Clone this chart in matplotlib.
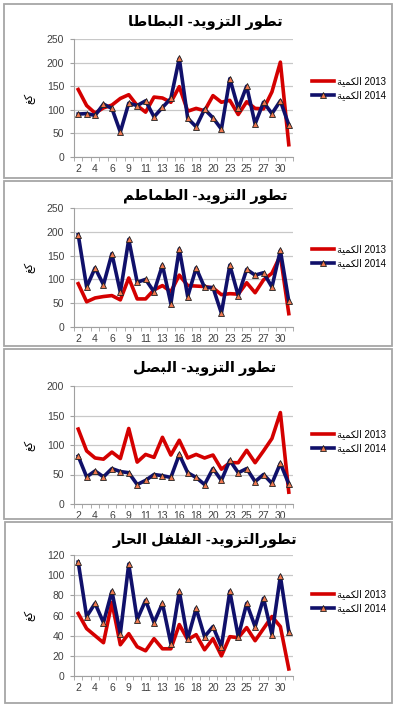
import matplotlib
matplotlib.use("Agg")
import matplotlib.pyplot as plt
import numpy as np
from matplotlib.patches import Rectangle

plt.rcParams['font.family'] = ['Liberation Sans', 'DejaVu Sans']

# presentation forms: isolated, final, initial, medial
FORMS = {
    'ا': ('\uFE8D', '\uFE8E', None, None),
    'ب': ('\uFE8F', '\uFE90', '\uFE91', '\uFE92'),
    'ة': ('\uFE93', '\uFE94', None, None),
    'ت': ('\uFE95', '\uFE96', '\uFE97', '\uFE98'),
    'ح': ('\uFEA1', '\uFEA2', '\uFEA3', '\uFEA4'),
    'د': ('\uFEA9', '\uFEAA', None, None),
    'ر': ('\uFEAD', '\uFEAE', None, None),
    'ز': ('\uFEAF', '\uFEB0', None, None),
    'ص': ('\uFEB9', '\uFEBA', '\uFEBB', '\uFEBC'),
    'ط': ('\uFEC1', '\uFEC2', '\uFEC3', '\uFEC4'),
    'غ': ('\uFECD', '\uFECE', '\uFECF', '\uFED0'),
    'ف': ('\uFED1', '\uFED2', '\uFED3', '\uFED4'),
    'ك': ('\uFED9', '\uFEDA', '\uFEDB', '\uFEDC'),
    'ل': ('\uFEDD', '\uFEDE', '\uFEDF', '\uFEE0'),
    'م': ('\uFEE1', '\uFEE2', '\uFEE3', '\uFEE4'),
    'و': ('\uFEED', '\uFEEE', None, None),
    'ي': ('\uFEF1', '\uFEF2', '\uFEF3', '\uFEF4'),
}


def ar(text):
    # shape the letters and put them in visual (right to left) order
    out = []
    for i, ch in enumerate(text):
        if ch not in FORMS:
            out.append(ch)
            continue
        prev = text[i - 1] if i > 0 else ''
        nxt = text[i + 1] if i + 1 < len(text) else ''
        jp = prev in FORMS and FORMS[prev][2] is not None
        jn = FORMS[ch][2] is not None and nxt in FORMS
        if jp and jn:
            out.append(FORMS[ch][3])
        elif jp:
            out.append(FORMS[ch][1])
        elif jn:
            out.append(FORMS[ch][2])
        else:
            out.append(FORMS[ch][0])
    return ''.join(reversed(out))


days = [2, 3, 4, 5, 6, 8, 9, 10, 11, 12, 13, 15, 16, 17, 18, 19, 20, 22, 23, 24, 25, 26, 27, 29, 30, 31]

titles = ["تطور التزويد- البطاطا", "تطور التزويد- الطماطم",
          "تطور التزويد- البصل", "تطورالتزويد- الفلفل الحار"]

potato_2013 = [143, 109, 93, 104, 110, 124, 132, 109, 95, 127, 125, 116, 149, 97, 103, 98, 130, 116, 120, 90, 117, 103, 102, 138, 201, 26]
potato_2014 = [91, 92, 88, 112, 103, 53, 114, 109, 119, 85, 105, 124, 209, 82, 64, 101, 83, 59, 166, 103, 150, 70, 116, 92, 119, 68]

tomato_2013 = [91, 53, 61, 64, 66, 57, 103, 59, 59, 78, 87, 74, 109, 87, 86, 85, 82, 68, 70, 69, 93, 72, 99, 113, 150, 28]
tomato_2014 = [194, 84, 124, 89, 154, 73, 184, 94, 100, 74, 130, 49, 164, 64, 124, 83, 83, 29, 130, 66, 121, 109, 114, 84, 161, 54]

onion_2013 = [127, 90, 78, 76, 88, 77, 128, 71, 84, 79, 113, 83, 108, 78, 84, 78, 83, 59, 70, 70, 91, 70, 90, 111, 155, 20]
onion_2014 = [81, 46, 56, 46, 60, 55, 53, 33, 40, 50, 48, 45, 84, 53, 45, 33, 60, 40, 74, 53, 60, 38, 50, 35, 69, 34]

pepper_2013 = [62, 47, 40, 33, 73, 31, 42, 29, 25, 37, 27, 27, 51, 36, 41, 26, 37, 20, 39, 38, 48, 35, 47, 59, 49, 7]
pepper_2014 = [113, 59, 72, 53, 84, 42, 111, 56, 75, 53, 72, 32, 84, 37, 67, 39, 49, 29, 84, 39, 72, 49, 77, 41, 99, 44]

series = [(potato_2013, potato_2014), (tomato_2013, tomato_2014),
          (onion_2013, onion_2014), (pepper_2013, pepper_2014)]
y_max = [250, 250, 200, 120]
y_step = [50, 50, 50, 20]

W, H = 398, 720
fig = plt.figure(figsize=(W / 100, H / 100), dpi=100)

# pixel boxes: panel frame, axes (left, top, right, bottom), title y, legend y
frames = [(4, 4, 392, 178), (4, 181, 392, 346), (4, 349, 392, 519), (5, 522, 392, 703)]
axes_px = [(74, 39, 293, 157), (74, 208, 293, 327), (74, 386, 293, 504), (74, 555, 293, 676)]
title_y = [22, 196, 368, 540]
legend_y = [88, 256, 441, 601]

x = np.arange(len(days))
lab13 = ar("الكمية") + " 2013"
lab14 = ar("الكمية") + " 2014"

for k in range(4):
    fx0, fy0, fx1, fy1 = frames[k]
    fig.patches.append(Rectangle((fx0 / W, 1 - fy1 / H), (fx1 - fx0) / W, (fy1 - fy0) / H,
                                 transform=fig.transFigure, fill=False,
                                 edgecolor='#a6a6a6', linewidth=1.3))

    l, t, r, b = axes_px[k]
    ax = fig.add_axes([l / W, 1 - b / H, (r - l) / W, (b - t) / H])
    s13, s14 = series[k]
    ax.plot(x, s13, color='#d40000', linewidth=2.6, label=lab13, zorder=3)
    ax.plot(x, s14, color='#10106a', linewidth=2.6, marker='^', markersize=5,
            markerfacecolor='#f07850', markeredgecolor='#202020', markeredgewidth=0.6,
            label=lab14, zorder=4)

    ax.set_xlim(-0.5, len(days) - 0.5)
    ax.set_ylim(0, y_max[k])
    ax.set_yticks(np.arange(0, y_max[k] + 1, y_step[k]))
    ax.set_xticks(x[::2])
    ax.set_xticklabels([str(d) for d in days[::2]])
    ax.set_xticks(np.arange(-0.5, len(days), 1), minor=True)
    ax.tick_params(axis='x', which='major', length=0, labelsize=7.5, pad=5, colors='#404040')
    ax.tick_params(axis='x', which='minor', length=3, color='#a0a0a0', direction='out')
    ax.tick_params(axis='y', length=3, color='#a0a0a0', labelsize=7.5, pad=4, colors='#404040')
    ax.yaxis.grid(True, color='#c8c8c8', linewidth=0.9)
    ax.set_axisbelow(True)
    for side in ['top', 'right']:
        ax.spines[side].set_visible(False)
    for side in ['left', 'bottom']:
        ax.spines[side].set_color('#a0a0a0')
    ax.set_ylabel(ar("كغ"), fontsize=8, labelpad=8)

    fig.text(205 / W, 1 - title_y[k] / H, ar(titles[k]), ha='center', va='center',
             fontsize=10.5, fontweight='bold')

    ax.legend(loc='center left', bbox_to_anchor=(308 / W, 1 - legend_y[k] / H),
              bbox_transform=fig.transFigure, frameon=False, fontsize=7,
              handlelength=2.3, handletextpad=0.3, labelspacing=0.4, borderaxespad=0)

fig.savefig("out.png", dpi=100)
